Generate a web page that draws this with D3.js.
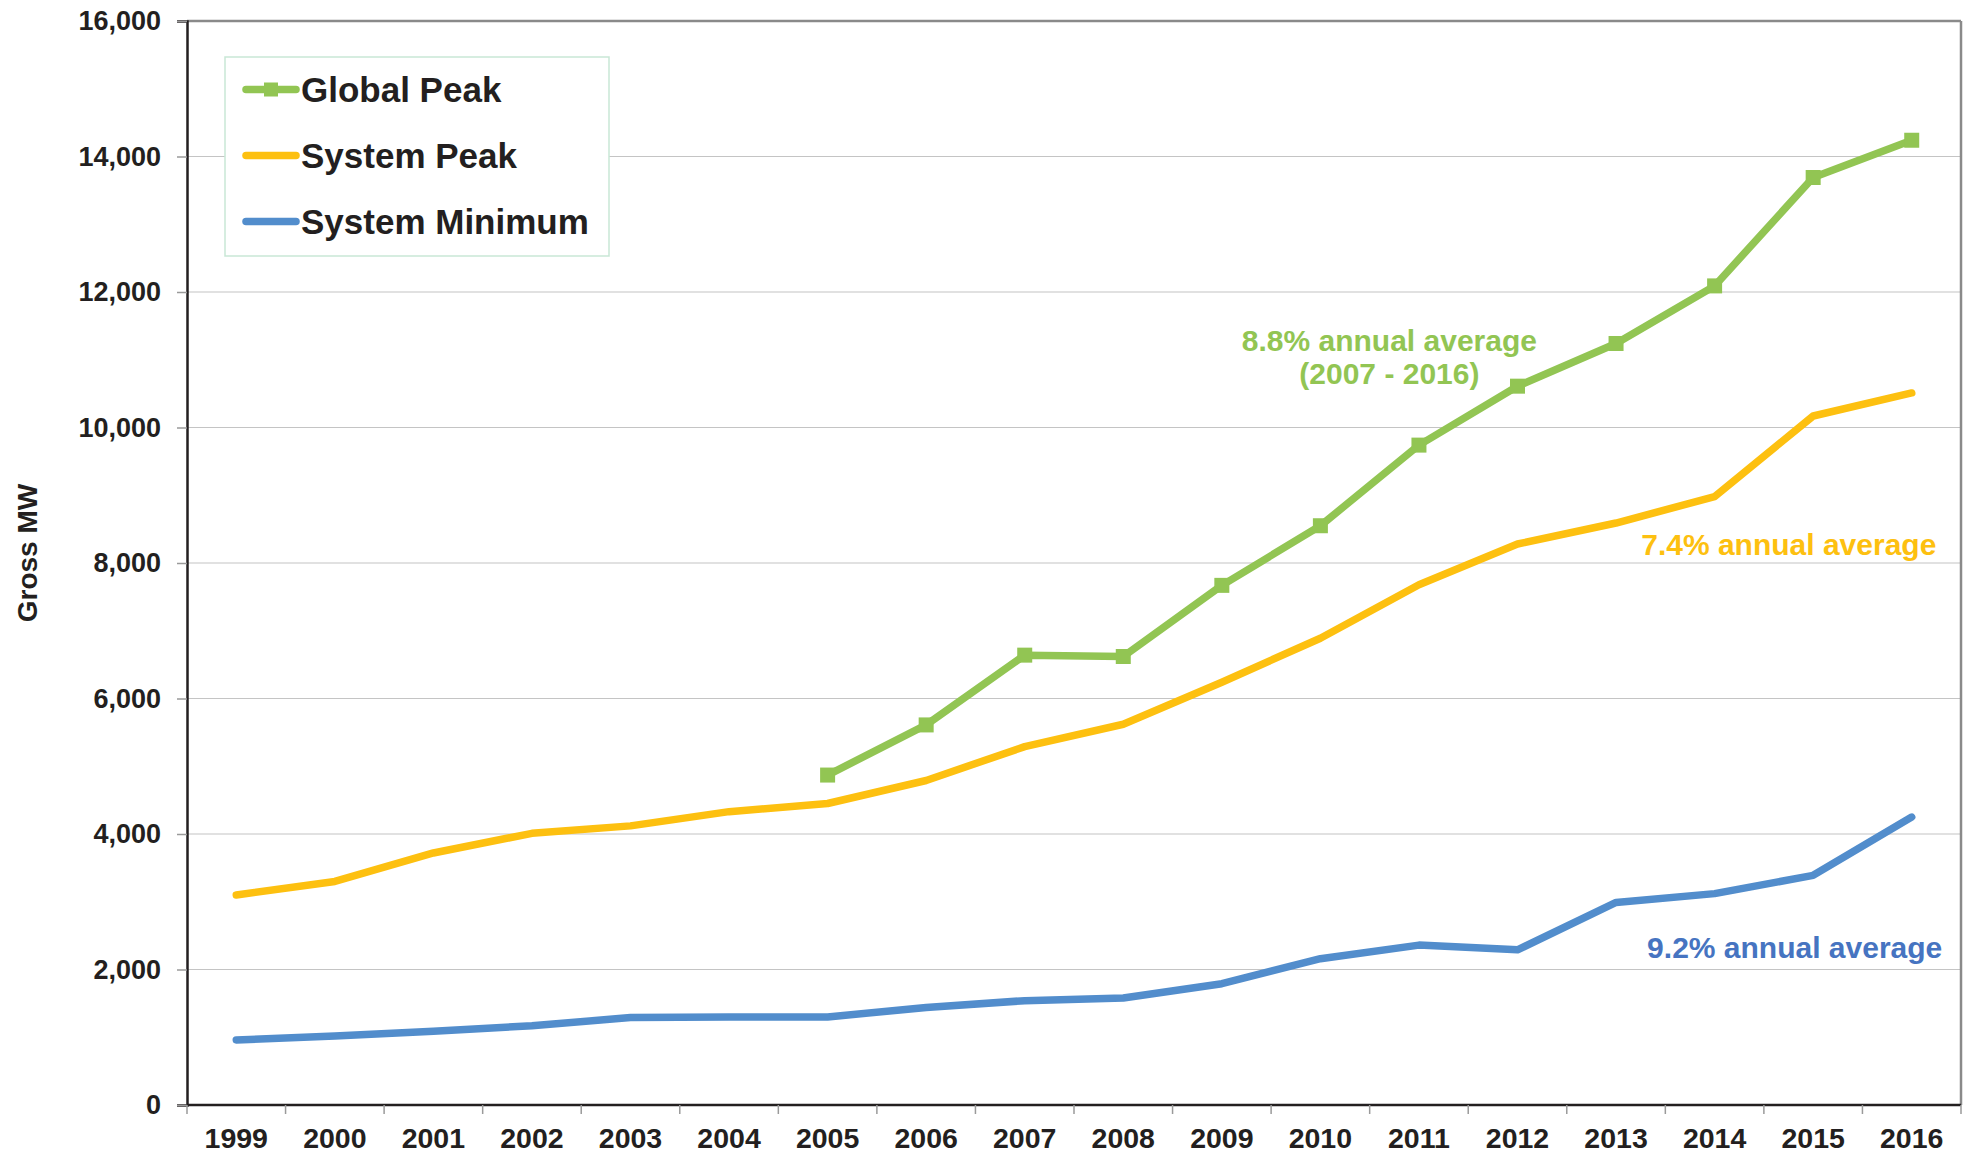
<!DOCTYPE html>
<html>
<head>
<meta charset="utf-8">
<script src="https://cdn.jsdelivr.net/npm/d3@7/dist/d3.min.js"></script>
<style>
  body { margin: 0; background: #fff; }
  svg text { font-family: 'Liberation Sans', Arial, sans-serif; font-weight: bold; fill: #231f20; }
</style>
</head>
<body>
<svg id="chart" width="1970" height="1154"></svg>
<script>
// values (Gross MW)
const years = [1999, 2000, 2001, 2002, 2003, 2004, 2005, 2006, 2007, 2008, 2009, 2010, 2011, 2012, 2013, 2014, 2015, 2016];
const systemMinimum = [960, 1020, 1090, 1170, 1290, 1300, 1300, 1440, 1540, 1580, 1790, 2160, 2360, 2290, 2990, 3120, 3390, 4250];
const systemPeak = [3100, 3300, 3720, 4010, 4120, 4330, 4450, 4790, 5290, 5620, 6240, 6890, 7680, 8280, 8590, 8980, 10170, 10510];
const globalPeak = [null, null, null, null, null, null, 4870, 5610, 6640, 6620, 7670, 8550, 9740, 10610, 11240, 12090, 13690, 14240];
const yTicks = [0, 2000, 4000, 6000, 8000, 10000, 12000, 14000, 16000];

const seriesNames = ['Global Peak', 'System Peak', 'System Minimum'];
const seriesColors = ['#92c553', '#fdc010', '#528dcc'];

// annotation texts, placed in data units
const notes = [
	{ text: '8.8% annual average', year: 2010.7, value: 11290, anchor: 'middle', color: '#92c553' },
	{ text: '(2007 - 2016)', year: 2010.7, value: 10800, anchor: 'middle', color: '#92c553' },
	{ text: '7.4% annual average', year: 2016.25, value: 8280, anchor: 'end', color: '#fdc010' },
	{ text: '9.2% annual average', year: 2016.31, value: 2320, anchor: 'end', color: '#4674c1' }
];

const margin = { left: 187, right: 1961, top: 21, bottom: 1105 };

const svg = d3.select('#chart');

const x = d3.scaleLinear().domain([1998.5, 2016.5]).range([margin.left, margin.right]);
const y = d3.scaleLinear().domain([0, 16000]).range([margin.bottom, margin.top]);

// gridlines
svg.append('g')
	.selectAll('line')
	.data(yTicks.filter(v => v > 0 && v < 16000))
	.join('line')
	.attr('x1', margin.left).attr('x2', margin.right)
	.attr('y1', d => y(d)).attr('y2', d => y(d))
	.attr('stroke', '#c4c4c4')
	.attr('stroke-width', 1.2);

// plot frame: top / right gray, left / bottom dark
svg.append('line')
	.attr('x1', margin.left).attr('x2', margin.right)
	.attr('y1', margin.top).attr('y2', margin.top)
	.attr('stroke', '#8a8a8a').attr('stroke-width', 2.5);
svg.append('line')
	.attr('x1', margin.right).attr('x2', margin.right)
	.attr('y1', margin.top).attr('y2', margin.bottom)
	.attr('stroke', '#8a8a8a').attr('stroke-width', 2.5);

// y axis
const yAxis = d3.axisLeft(y)
	.tickValues(yTicks)
	.tickSize(10)
	.tickPadding(16)
	.tickFormat(d3.format(','));
const gy = svg.append('g').attr('transform', `translate(${margin.left},0)`).call(yAxis);
gy.select('.domain').attr('stroke', '#231f20').attr('stroke-width', 2.5);
gy.selectAll('.tick line').attr('stroke', '#9a9a9a').attr('stroke-width', 1.5);
gy.selectAll('.tick text').attr('font-size', 27).attr('fill', '#231f20');

// x axis: ticks at year boundaries, labels at centres
const boundaries = years.map(d => d - 0.5).concat([years[years.length - 1] + 0.5]);
const gx = svg.append('g').attr('transform', `translate(0,${margin.bottom})`);
gx.append('line').attr('x1', margin.left).attr('x2', margin.right)
	.attr('stroke', '#231f20').attr('stroke-width', 2.5);
gx.selectAll('line.tk')
	.data(boundaries)
	.join('line')
	.attr('class', 'tk')
	.attr('x1', d => x(d)).attr('x2', d => x(d))
	.attr('y1', 0).attr('y2', 9)
	.attr('stroke', '#9a9a9a').attr('stroke-width', 1.5);
gx.selectAll('text')
	.data(years)
	.join('text')
	.attr('x', d => x(d))
	.attr('y', 43)
	.attr('text-anchor', 'middle')
	.attr('font-size', 28.5)
	.text(d => d);

// y axis title
svg.append('text')
	.attr('transform', 'translate(37,553) rotate(-90)')
	.attr('text-anchor', 'middle')
	.attr('font-size', 28)
	.text('Gross MW');

// series lines
const line = d3.line()
	.defined(d => d[1] !== null)
	.x(d => x(d[0]))
	.y(d => y(d[1]));

const seriesData = [globalPeak, systemPeak, systemMinimum];
const drawOrder = [2, 1, 0];
drawOrder.forEach(i => {
	svg.append('path')
		.datum(years.map((yr, j) => [yr, seriesData[i][j]]))
		.attr('d', line)
		.attr('fill', 'none')
		.attr('stroke', seriesColors[i])
		.attr('stroke-width', 7.5)
		.attr('stroke-linejoin', 'round')
		.attr('stroke-linecap', 'round');
});

// square markers on Global Peak
const markerSize = 15;
svg.append('g')
	.selectAll('rect')
	.data(years.map((yr, j) => [yr, globalPeak[j]]).filter(d => d[1] !== null))
	.join('rect')
	.attr('x', d => x(d[0]) - markerSize / 2)
	.attr('y', d => y(d[1]) - markerSize / 2)
	.attr('width', markerSize)
	.attr('height', markerSize)
	.attr('fill', seriesColors[0]);

// annotations
svg.append('g')
	.selectAll('text')
	.data(notes)
	.join('text')
	.attr('x', d => x(d.year))
	.attr('y', d => y(d.value))
	.attr('dy', '0.35em')
	.attr('text-anchor', d => d.anchor)
	.attr('font-size', 30)
	.style('fill', d => d.color)
	.text(d => d.text);

// legend
const legend = svg.append('g');
legend.append('rect')
	.attr('x', 225).attr('y', 57)
	.attr('width', 384).attr('height', 199)
	.attr('fill', '#fff')
	.attr('stroke', '#c9e7d6')
	.attr('stroke-width', 1.5);

const rows = legend.selectAll('g.row')
	.data(seriesNames)
	.join('g')
	.attr('class', 'row')
	.attr('transform', (d, i) => `translate(0,${89.5 + i * 66})`);
rows.append('line')
	.attr('x1', 246).attr('x2', 296)
	.attr('stroke', (d, i) => seriesColors[i])
	.attr('stroke-width', 7.5)
	.attr('stroke-linecap', 'round');
rows.filter((d, i) => i === 0)
	.append('rect')
	.attr('x', 271 - 7).attr('y', -7)
	.attr('width', 14).attr('height', 14)
	.attr('fill', seriesColors[0]);
rows.append('text')
	.attr('x', 301)
	.attr('dy', '0.36em')
	.attr('font-size', 35)
	.text(d => d);
</script>
</body>
</html>
